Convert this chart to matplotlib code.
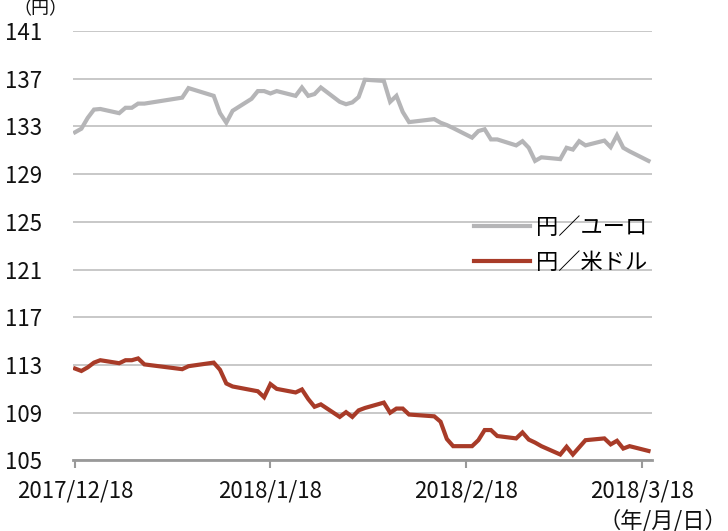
import matplotlib
matplotlib.use("Agg")
import matplotlib.pyplot as plt
import pandas as pd

plt.rcParams['font.family'] = ['Noto Sans CJK JP', 'DejaVu Sans']

# business days
dates = pd.to_datetime([
    "2017-12-18", "2017-12-19", "2017-12-20", "2017-12-21", "2017-12-22",
    "2017-12-25", "2017-12-26", "2017-12-27", "2017-12-28", "2017-12-29",
    "2018-01-04", "2018-01-05", "2018-01-09", "2018-01-10", "2018-01-11",
    "2018-01-12", "2018-01-15", "2018-01-16", "2018-01-17", "2018-01-18",
    "2018-01-19", "2018-01-22", "2018-01-23", "2018-01-24", "2018-01-25",
    "2018-01-26", "2018-01-29", "2018-01-30", "2018-01-31", "2018-02-01",
    "2018-02-02", "2018-02-05", "2018-02-06", "2018-02-07", "2018-02-08",
    "2018-02-09", "2018-02-13", "2018-02-14", "2018-02-15", "2018-02-16",
    "2018-02-19", "2018-02-20", "2018-02-21", "2018-02-22", "2018-02-23",
    "2018-02-26", "2018-02-27", "2018-02-28", "2018-03-01", "2018-03-02",
    "2018-03-05", "2018-03-06", "2018-03-07", "2018-03-08", "2018-03-09",
    "2018-03-12", "2018-03-13", "2018-03-14", "2018-03-15", "2018-03-16",
    "2018-03-19",
])

jpy_eur = [
    132.5, 132.8, 133.7, 134.4, 134.45,
    134.1, 134.55, 134.55, 134.9, 134.9,
    135.4, 136.2, 135.55, 134.1, 133.3,
    134.3, 135.3, 135.95, 135.95, 135.75,
    135.95, 135.55, 136.25, 135.55, 135.7,
    136.25, 135.05, 134.85, 135.0, 135.45,
    136.9, 136.8, 135.05, 135.55, 134.2,
    133.35, 133.6, 133.3, 133.1, 132.85,
    132.05, 132.6, 132.75, 131.9, 131.9,
    131.4, 131.75, 131.2, 130.1, 130.4,
    130.25, 131.2, 131.05, 131.75, 131.4,
    131.8, 131.25, 132.25, 131.2, 130.9,
    130.1,
]

jpy_usd = [
    112.7, 112.5, 112.8, 113.2, 113.4,
    113.15, 113.4, 113.4, 113.55, 113.05,
    112.65, 112.9, 113.2, 112.6, 111.45,
    111.2, 110.9, 110.8, 110.3, 111.4,
    111.0, 110.7, 110.95, 110.15, 109.5,
    109.7, 108.65, 109.05, 108.65, 109.2,
    109.4, 109.85, 109.0, 109.35, 109.35,
    108.85, 108.7, 108.25, 106.8, 106.2,
    106.2, 106.7, 107.55, 107.55, 107.05,
    106.85, 107.35, 106.75, 106.5, 106.2,
    105.5, 106.15, 105.5, 106.1, 106.7,
    106.85, 106.35, 106.65, 106.0, 106.2,
    105.8,
]

labels = ["円／ユーロ", "円／米ドル"]
yticks = [105, 109, 113, 117, 121, 125, 129, 133, 137, 141]
xticks = pd.to_datetime(["2017-12-18", "2018-01-18", "2018-02-18", "2018-03-18"])
xtick_labels = ["2017/12/18", "2018/1/18", "2018/2/18", "2018/3/18"]

fig = plt.figure(figsize=(7.28, 5.31), dpi=100)
ax = fig.add_axes([0.0999, 0.1328, 0.7952, 0.8092])

ax.plot(dates, jpy_eur, color="#b5b5b7", lw=3.0, label=labels[0], solid_joinstyle="miter")
ax.plot(dates, jpy_usd, color="#a83b28", lw=3.0, label=labels[1], solid_joinstyle="miter")

ax.set_ylim(105, 141)
ax.set_yticks(yticks)
ax.set_yticklabels([str(v) for v in yticks])
ax.set_xlim(pd.Timestamp("2017-12-18") - pd.Timedelta(hours=9),
            pd.Timestamp("2018-03-19") + pd.Timedelta(hours=12))
ax.set_xticks(xticks)
ax.set_xticklabels(xtick_labels)

ax.grid(axis="y", color="#c4c4c4", lw=1.3)
ax.set_axisbelow(True)
for s in ["top", "right", "left"]:
    ax.spines[s].set_visible(False)
ax.spines["bottom"].set_color("#999999")
ax.spines["bottom"].set_linewidth(2)
ax.tick_params(axis="y", length=0, pad=22, labelsize=16, labelcolor="#111111")
ax.tick_params(axis="x", length=6, width=1.5, color="#999999", pad=8,
               labelsize=16, labelcolor="#111111")

leg = ax.legend(loc="upper left", bbox_to_anchor=(0.694, 0.569), frameon=False,
                fontsize=16, handlelength=2.5, handletextpad=0.27,
                labelspacing=0.55, borderaxespad=0, borderpad=0)

fig.text(0.055, 1.0, "（円）", ha="center", va="top", fontsize=13, color="#111111")
fig.text(0.999, 0.02, "（年/月/日）", ha="right", va="center", fontsize=16, color="#111111")

fig.savefig("out.png", dpi=100)
